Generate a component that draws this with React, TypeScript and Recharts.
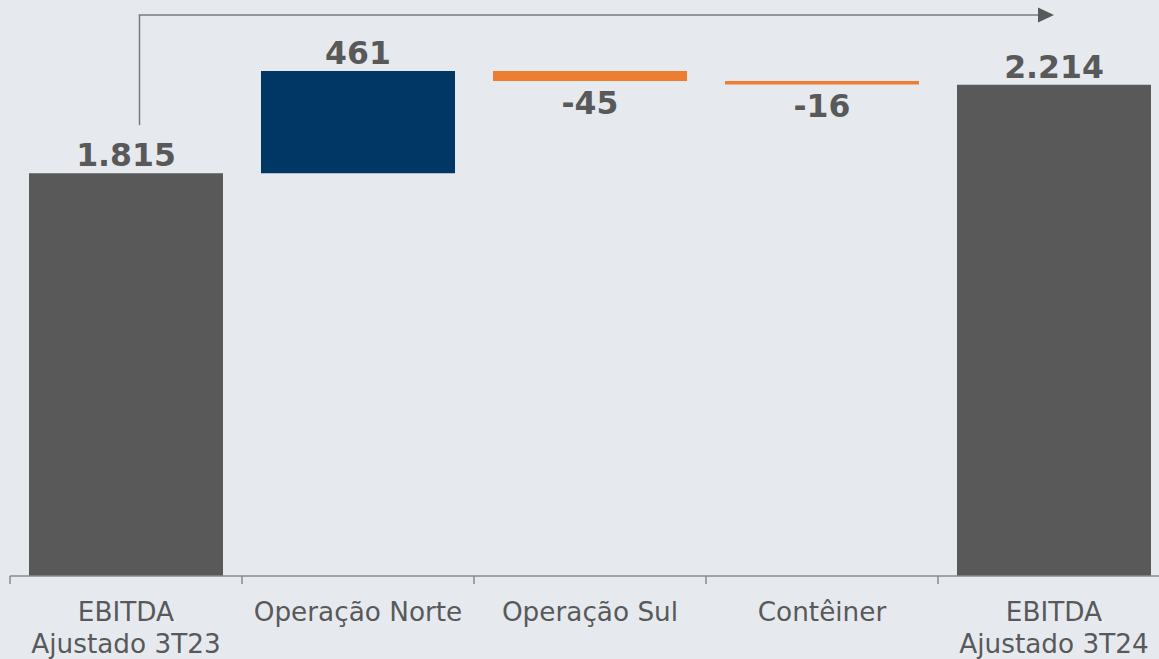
import React from 'react';
import { BarChart, Bar, XAxis, YAxis, Cell, LabelList, ReferenceLine } from 'recharts';

const categories = ['EBITDA\nAjustado 3T23', 'Operação Norte', 'Operação Sul', 'Contêiner', 'EBITDA\nAjustado 3T24'];
const values = [1815, 461, -45, -16, 2214];
const valueLabels = ['1.815', '461', '-45', '-16', '2.214'];
const kinds = ['total', 'delta', 'delta', 'delta', 'total'];

// arrow connecting start and end totals (value-axis units)
const arrowBottom = 2032;
const arrowTop = 2528;

const WIDTH = 1170;
const HEIGHT = 659;
const LEFT = 10;
const BAND = (WIDTH - LEFT) / categories.length;

const GRAY = '#595959';
const BLUE = '#003764';
const ORANGE = '#ED7D31';
const AXIS = '#8a8a8a';
const FONT = '"DejaVu Sans", Verdana, sans-serif';

let running = 0;
const data = categories.map((name, i) => {
  let range: [number, number];
  if (kinds[i] === 'total') {
    range = [0, values[i]];
    running = values[i];
  } else {
    const next = running + values[i];
    range = [Math.min(running, next), Math.max(running, next)];
    running = next;
  }
  return { name, range, label: valueLabels[i] };
});

const colorFor = (i: number) => {
  if (kinds[i] === 'total') return GRAY;
  return values[i] >= 0 ? BLUE : ORANGE;
};

const CategoryTick = (props: any) => {
  const { x, y, payload, index } = props;
  const cx = Number(x);
  const cy = Number(y);
  const lines = String(payload.value).split('\n');
  const half = BAND / 2;
  return (
    <g>
      <line x1={cx - half} x2={cx - half} y1={cy} y2={cy + 8} stroke={AXIS} strokeWidth={1.5} />
      {index === categories.length - 1 && (
        <line x1={cx + half} x2={cx + half} y1={cy} y2={cy + 8} stroke={AXIS} strokeWidth={1.5} />
      )}
      <text x={cx} y={cy + 45} textAnchor="middle" fill={GRAY} fontSize={26.3} fontFamily={FONT}>
        {lines.map((l, i) => (
          <tspan key={i} x={cx} dy={i === 0 ? 0 : 32}>
            {l}
          </tspan>
        ))}
      </text>
    </g>
  );
};

const ValueLabel = (props: any) => {
  const x = Number(props.x);
  const y = Number(props.y);
  const width = Number(props.width);
  const height = Number(props.height);
  const top = Math.min(y, y + height);
  const bottom = Math.max(y, y + height);
  const neg = String(props.value).startsWith('-');
  return (
    <text
      x={x + width / 2}
      y={neg ? bottom + 33 : top - 7}
      textAnchor="middle"
      fill={GRAY}
      fontSize={31.5}
      fontWeight="bold"
      fontFamily={FONT}
    >
      {props.value}
    </text>
  );
};

const VerticalLink = (p: any) => (
  <line x1={p.x1 + 13.5} x2={p.x2 + 13.5} y1={p.y1} y2={p.y2} stroke="#7a7a7a" strokeWidth={1.5} />
);

const ArrowLink = (p: any) => (
  <g>
    <line x1={p.x1 + 12.75} x2={p.x2 - 15} y1={p.y1} y2={p.y2} stroke="#7a7a7a" strokeWidth={1.5} />
    <polygon points={`${p.x2 - 16},${p.y2 - 7.5} ${p.x2},${p.y2} ${p.x2 - 16},${p.y2 + 7.5}`} fill={GRAY} />
  </g>
);

export default function App() {
  return (
    <div
      style={{
        position: 'absolute',
        top: 0,
        left: 0,
        width: 1159,
        height: HEIGHT,
        overflow: 'hidden',
        background: '#E6EAEF',
      }}
    >
      <BarChart width={WIDTH} height={HEIGHT} data={data} margin={{ top: 1, right: 0, left: LEFT, bottom: 0 }}>
        <XAxis
          dataKey="name"
          height={83}
          interval={0}
          tickSize={0}
          tickMargin={0}
          tickLine={false}
          axisLine={{ stroke: AXIS, strokeWidth: 1.5 }}
          tick={<CategoryTick />}
        />
        <YAxis hide domain={[0, 2591]} />
        <ReferenceLine
          segment={[{ x: categories[0], y: arrowBottom }, { x: categories[0], y: arrowTop }]}
          ifOverflow="visible"
          shape={VerticalLink}
        />
        <ReferenceLine
          segment={[{ x: categories[0], y: arrowTop }, { x: categories[4], y: arrowTop }]}
          ifOverflow="visible"
          shape={ArrowLink}
        />
        <Bar dataKey="range" barSize={194} isAnimationActive={false}>
          {data.map((_, i) => (
            <Cell key={i} fill={colorFor(i)} />
          ))}
          <LabelList dataKey="label" content={<ValueLabel />} />
        </Bar>
      </BarChart>
    </div>
  );
}
